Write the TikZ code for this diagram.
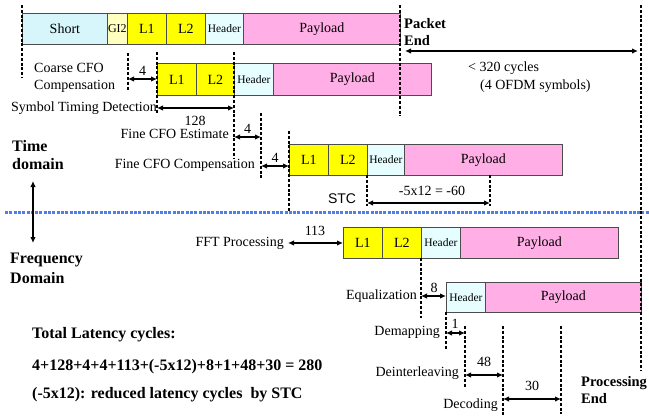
\documentclass[tikz,border=0pt]{standalone}
\usepackage{fontspec}
\setmainfont{Liberation Serif}
\setsansfont{Liberation Sans}
\usetikzlibrary{arrows.meta}

\definecolor{shortc}{HTML}{D6F6FB}
\definecolor{gic}{HTML}{FFFFC0}
\definecolor{ltc}{HTML}{FFFF00}
\definecolor{hdrc}{HTML}{E6FEFF}
\definecolor{payc}{HTML}{FFAEE6}
\definecolor{splitc}{HTML}{4D7FEA}

\tikzset{
  seg/.style={draw=black!70, line width=0.8pt, anchor=north west, inner sep=0pt,
              font=\fontsize{14}{16}\selectfont},
  shortbox/.style={seg, fill=shortc},
  gibox/.style={seg, fill=gic, font=\fontsize{12}{14}\selectfont},
  lbox/.style={seg, fill=ltc},
  hdrbox/.style={seg, fill=hdrc, font=\fontsize{11.5}{14}\selectfont},
  paybox/.style={seg, fill=payc},
  marker/.style={line width=1.2pt, dash pattern=on 3pt off 1.8pt},
  span/.style={line width=1.5pt, {Latex[length=6pt,width=5.5pt]}-{Latex[length=6pt,width=5.5pt]}},
  lbl/.style={font=\fontsize{14}{16}\selectfont, inner sep=0pt},
  num/.style={font=\fontsize{14}{16}\selectfont, inner sep=0pt},
  bold/.style={font=\fontsize{14.5}{17}\selectfont\bfseries, inner sep=0pt, align=left},
  bigbold/.style={font=\fontsize{16}{17}\selectfont\bfseries, inner sep=0pt, align=left},
}

\begin{document}
\begin{tikzpicture}[x=1pt, y=-1pt]
\useasboundingbox (0,0) rectangle (649,420);

% ---- received packet ----
\node[shortbox, minimum width=85pt, minimum height=31pt] (r1s)  at (22,13)  {Short};
\node[gibox,    minimum width=20pt, minimum height=31pt] (r1g)  at (107,13) {GI2};
\node[lbox,     minimum width=39pt, minimum height=31pt] (r1a)  at (127,13) {L1};
\node[lbox,     minimum width=39pt, minimum height=31pt] (r1b)  at (166,13) {L2};
\node[hdrbox,   minimum width=38pt, minimum height=31pt] (r1h)  at (205,13) {Header};
\node[paybox,   minimum width=157pt, minimum height=31pt] (r1p) at (243,13) {Payload};

% ---- after coarse CFO compensation ----
\node[lbox,   minimum width=39pt, minimum height=32pt] (r2a) at (157,63) {L1};
\node[lbox,   minimum width=38pt, minimum height=32pt] (r2b) at (196,63) {L2};
\node[hdrbox, minimum width=39pt, minimum height=32pt] (r2h) at (234,63) {Header};
\node[paybox, minimum width=158pt, minimum height=32pt] (r2p) at (273,63) {Payload};

% ---- after fine CFO compensation ----
\node[lbox,   minimum width=39pt, minimum height=31pt] (r3a) at (289,144) {L1};
\node[lbox,   minimum width=39pt, minimum height=31pt] (r3b) at (328,144) {L2};
\node[hdrbox, minimum width=37pt, minimum height=31pt] (r3h) at (367,144) {Header};
\node[paybox, minimum width=158pt, minimum height=31pt] (r3p) at (404,144) {Payload};

% ---- after FFT ----
\node[lbox,   minimum width=39pt, minimum height=31pt] (r4a) at (343,227) {L1};
\node[lbox,   minimum width=39pt, minimum height=31pt] (r4b) at (382,227) {L2};
\node[hdrbox, minimum width=39pt, minimum height=31pt] (r4h) at (421,227) {Header};
\node[paybox, minimum width=158pt, minimum height=31pt] (r4p) at (460,227) {Payload};

% ---- after equalization ----
\node[hdrbox, minimum width=39pt, minimum height=30pt] (r5h) at (446,282) {Header};
\node[paybox, minimum width=156pt, minimum height=30pt] (r5p) at (485,282) {Payload};

% ---- time / frequency split ----
\coordinate (splitL) at (5,212.5);
\coordinate (splitR) at (649,212.5);
\draw[splitc, line width=2.2pt, dash pattern=on 3pt off 1.3pt] (splitL) -- (splitR);

% ---- marker lines ----
\foreach \nm/\x/\ya/\yb in {start/22/5/78, pend/400/5/116, eend/641/5/370,
    cfo/128/53/90, lone/157/52/113, ltwo/234/52/158, fest/261/113/180,
    fcomp/289/131/211, stca/367/175/206, stcb/490/175/206, fft/421/258/318,
    eq/446/312/350, dmap/465/326/388, dint/503/326/415, dec/561/326/414}{
  \coordinate (\nm T) at (\x,\ya);
  \coordinate (\nm B) at (\x,\yb);
  \draw[marker] (\nm T) -- (\nm B);
}

% ---- spans ----
\coordinate (a0) at (405,51);  \coordinate (a1) at (638,51);
\draw[span] (a0) -- (a1);
\node[lbl, anchor=west] (c320) at (468,68) {< 320 cycles};
\node[lbl, anchor=west] (c4s)  at (480,86) {(4 OFDM symbols)};

\coordinate (b0) at (128,79);  \coordinate (b1) at (157,79);
\draw[span] (b0) -- (b1);
\node[num] (n4a) at (142.5,71) {4};

\coordinate (c0) at (157,108); \coordinate (c1) at (234,108);
\draw[span] (c0) -- (c1);
\node[num] (n128) at (195,121) {128};

\coordinate (d0) at (234,137); \coordinate (d1) at (261,137);
\draw[span] (d0) -- (d1);
\node[num] (n4b) at (247.5,129) {4};

\coordinate (e0) at (261,166); \coordinate (e1) at (289,166);
\draw[span] (e0) -- (e1);
\node[num] (n4c) at (275,158) {4};

\coordinate (f0) at (367,203); \coordinate (f1) at (490,203);
\draw[span] (f0) -- (f1);
\node[num] (n60) at (432,191) {-5x12 = -60};
\node[font=\fontsize{14}{16}\selectfont\sffamily, inner sep=0pt] (stc) at (342,199) {STC};

\coordinate (g0) at (288,243); \coordinate (g1) at (343,243);
\draw[span] (g0) -- (g1);
\node[num] (n113) at (315,231) {113};

\coordinate (h0) at (421,296); \coordinate (h1) at (446,296);
\draw[span] (h0) -- (h1);
\node[num] (n8) at (434,288) {8};

\coordinate (i0) at (446,333); \coordinate (i1) at (465,333);
\draw[span] (i0) -- (i1);
\node[num] (n1) at (455,324) {1};

\coordinate (j0) at (465,375); \coordinate (j1) at (503,375);
\draw[span] (j0) -- (j1);
\node[num] (n48) at (484,362) {48};

\coordinate (k0) at (503,399); \coordinate (k1) at (561,399);
\draw[span] (k0) -- (k1);
\node[num] (n30) at (532,386) {30};

% ---- processing step labels ----
\node[lbl, align=left, anchor=north west, font=\fontsize{14}{17}\selectfont] (coarse) at (34,63) {Coarse CFO\\Compensation};
\node[lbl, anchor=east] (std)   at (157,108) {Symbol Timing Detection};
\node[lbl, anchor=east] (festl) at (229,134) {Fine CFO Estimate};
\node[lbl, anchor=east] (fcmpl) at (255,165) {Fine CFO Compensation};
\node[lbl, anchor=east] (fftp)  at (284,243) {FFT Processing};
\node[lbl, anchor=east] (equ)   at (417,296) {Equalization};
\node[lbl, anchor=east] (dmp)   at (440,332) {Demapping};
\node[lbl, anchor=east] (dil)   at (459,373) {Deinterleaving};
\node[lbl, anchor=east] (dcd)   at (498,405) {Decoding};

% ---- end markers ----
\node[bold, anchor=north west] (pktend)  at (404,18)  {Packet\\End};
\node[bold, anchor=north west] (procend) at (581,376) {Processing\\End};

% ---- domain labels ----
\node[bigbold, anchor=north west, font=\fontsize{16}{18}\selectfont\bfseries] (tdom) at (12,140) {Time\\domain};
\node[bigbold, anchor=north west, font=\fontsize{16}{20}\selectfont\bfseries] (fdom) at (10,253) {Frequency\\Domain};
\coordinate (v0) at (33,181);
\coordinate (v1) at (33,243);
\draw[span] (v0) -- (v1);

% ---- latency summary ----
\node[bigbold, anchor=west] (tot1) at (32,335) {Total Latency cycles:};
\node[bigbold, anchor=west] (tot2) at (32,367) {4+128+4+4+113+(-5x12)+8+1+48+30 = 280};
\node[bigbold, anchor=west] (tot3) at (32,395) {(-5x12): reduced latency cycles\ \ by STC};
\end{tikzpicture}
\end{document}
